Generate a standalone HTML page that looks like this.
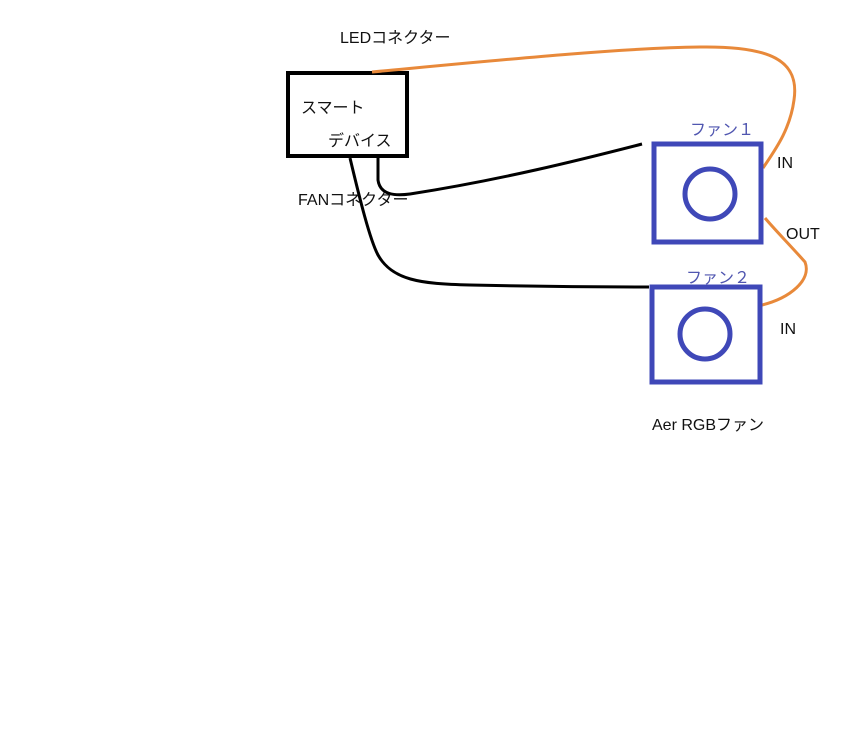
<!DOCTYPE html>
<html><head><meta charset="utf-8"><style>
html,body{margin:0;padding:0;background:#fff;}
svg text{font-family:"Liberation Sans","Noto Sans CJK JP",sans-serif;font-size:16px;}
</style></head><body>
<svg width="854" height="749" viewBox="0 0 854 749" xmlns="http://www.w3.org/2000/svg">
<rect width="854" height="749" fill="#fff"/>
<text x="340" y="43" fill="#111">LEDコネクター</text>
<rect x="288" y="73" width="119" height="83" fill="none" stroke="#000" stroke-width="4"/>
<text x="301" y="113" fill="#111">スマート</text>
<text x="328" y="146" fill="#111">デバイス</text>
<path d="M372 72 C500 60 620 48 700 47 C770 46 800 60 794 100 C790 130 775 150 763 168" fill="none" stroke="#e8893a" stroke-width="3"/>
<path d="M765 218 C775 230 790 245 805 262 C812 280 790 298 762 305" fill="none" stroke="#e8893a" stroke-width="3"/>
<path d="M378 158 L378 180 C380 195 395 196 410 194 C500 180 580 160 642 144" fill="none" stroke="#000" stroke-width="3"/>
<path d="M350 158 C360 200 370 240 378 255 C392 280 420 284 470 285 C560 287 610 287 649 287" fill="none" stroke="#000" stroke-width="3"/>
<text x="298" y="205" fill="#111">FANコネクター</text>
<rect x="654" y="144" width="107" height="98" fill="none" stroke="#3f48b8" stroke-width="5"/>
<circle cx="710" cy="194" r="25" fill="none" stroke="#3f48b8" stroke-width="5"/>
<text x="690" y="135" fill="#5056b0">ファン１</text>
<text x="777" y="168" fill="#111">IN</text>
<text x="786" y="239" fill="#111">OUT</text>
<rect x="652" y="287" width="108" height="95" fill="none" stroke="#3f48b8" stroke-width="5"/>
<circle cx="705" cy="334" r="25" fill="none" stroke="#3f48b8" stroke-width="5"/>
<text x="686" y="283" fill="#5056b0">ファン２</text>
<text x="780" y="334" fill="#111">IN</text>
<text x="652" y="430" fill="#111">Aer RGBファン</text>
</svg>
</body></html>
